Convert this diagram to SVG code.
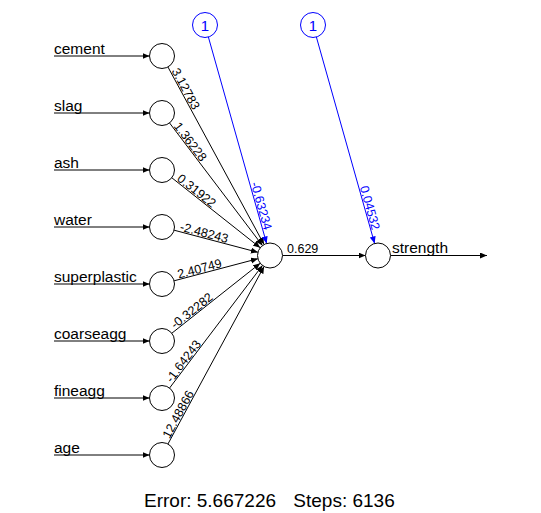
<svg xmlns="http://www.w3.org/2000/svg" width="541" height="513" viewBox="0 0 541 513">
<style>
text{font-family:"Liberation Sans",Arial,sans-serif;fill:#000}
.lbl{font-size:15.5px}
.w{font-size:12.5px}
.wb{font-size:12.5px;fill:#0000ff}
.node{fill:#fff;stroke:#000;stroke-width:1}
.bias{fill:#fff;stroke:#0000ff;stroke-width:1}
.e{stroke:#000;stroke-width:1;fill:none;marker-end:url(#ah)}
.eb{stroke:#0000ff;stroke-width:1;fill:none;marker-end:url(#ahb)}
.one{font-size:15px;fill:#0000ff;text-anchor:middle}
.foot{font-size:19px}
</style>
<defs>
<marker id="ah" markerUnits="userSpaceOnUse" markerWidth="8" markerHeight="7" refX="7" refY="3" orient="auto"><path d="M0,0 L7,3 L0,6 Z" fill="#000"/></marker>
<marker id="ahb" markerUnits="userSpaceOnUse" markerWidth="8" markerHeight="7" refX="7" refY="3" orient="auto"><path d="M0,0 L7,3 L0,6 Z" fill="#0000ff"/></marker>
</defs>
<rect width="541" height="513" fill="#fff"/>
<g id="connectors">
<line class="e" x1="54" y1="56" x2="149.5" y2="56"/>
<line class="e" x1="54" y1="113" x2="149.5" y2="113"/>
<line class="e" x1="54" y1="170" x2="149.5" y2="170"/>
<line class="e" x1="54" y1="227" x2="149.5" y2="227"/>
<line class="e" x1="54" y1="284" x2="149.5" y2="284"/>
<line class="e" x1="54" y1="341" x2="149.5" y2="341"/>
<line class="e" x1="54" y1="398" x2="149.5" y2="398"/>
<line class="e" x1="54" y1="455" x2="149.5" y2="455"/>
<line class="e" x1="167.95" y1="66.99" x2="264.05" y2="244.51"/>
<line class="e" x1="169.55" y1="122.96" x2="262.45" y2="245.54"/>
<line class="e" x1="171.80" y1="177.76" x2="260.20" y2="247.74"/>
<line class="e" x1="174.09" y1="230.19" x2="257.91" y2="252.31"/>
<line class="e" x1="174.09" y1="280.81" x2="257.91" y2="258.69"/>
<line class="e" x1="171.80" y1="333.24" x2="260.20" y2="263.26"/>
<line class="e" x1="169.55" y1="388.04" x2="262.45" y2="265.46"/>
<line class="e" x1="167.95" y1="444.01" x2="264.05" y2="266.49"/>
<line class="eb" x1="208.39" y1="37.03" x2="266.61" y2="243.47"/>
<line class="eb" x1="316.39" y1="37.03" x2="374.61" y2="243.47"/>
<line class="e" x1="282.5" y1="255.5" x2="365.5" y2="255.5"/>
<line class="e" x1="390.5" y1="255.5" x2="487" y2="255.5"/>
<text class="w" transform="translate(162,56) rotate(61.57)" x="17.5" y="-1">3.12783</text>
<text class="w" transform="translate(162,113) rotate(52.84)" x="17.5" y="-1">1.36228</text>
<text class="w" transform="translate(162,170) rotate(38.37)" x="17.5" y="-1">0.31922</text>
<text class="w" transform="translate(162,227) rotate(14.78)" x="17.5" y="-1">-2.48243</text>
<text class="w" transform="translate(162,284) rotate(-14.78)" x="17.5" y="-1">2.40749</text>
<text class="w" transform="translate(162,341) rotate(-38.37)" x="17.5" y="-1">-0.32282</text>
<text class="w" transform="translate(162,398) rotate(-52.84)" x="17.5" y="-1">-1.64243</text>
<text class="w" transform="translate(162,455) rotate(-61.57)" x="17.5" y="-1">12.48866</text>
<text class="wb" transform="translate(205,25) rotate(74.29)" x="214" y="-1" text-anchor="end">-0.63234</text>
<text class="wb" transform="translate(313,25) rotate(74.29)" x="214" y="-1" text-anchor="end">0.04532</text>
<text class="w" x="287" y="253">0.629</text>
</g>
<g id="in-cement"><circle class="node" cx="162" cy="56" r="12.5"/><text class="lbl" x="54" y="54.3">cement</text></g>
<g id="in-slag"><circle class="node" cx="162" cy="113" r="12.5"/><text class="lbl" x="54" y="111.3">slag</text></g>
<g id="in-ash"><circle class="node" cx="162" cy="170" r="12.5"/><text class="lbl" x="54" y="168.3">ash</text></g>
<g id="in-water"><circle class="node" cx="162" cy="227" r="12.5"/><text class="lbl" x="54" y="225.3">water</text></g>
<g id="in-superplastic"><circle class="node" cx="162" cy="284" r="12.5"/><text class="lbl" x="54" y="282.3">superplastic</text></g>
<g id="in-coarseagg"><circle class="node" cx="162" cy="341" r="12.5"/><text class="lbl" x="54" y="339.3">coarseagg</text></g>
<g id="in-fineagg"><circle class="node" cx="162" cy="398" r="12.5"/><text class="lbl" x="54" y="396.3">fineagg</text></g>
<g id="in-age"><circle class="node" cx="162" cy="455" r="12.5"/><text class="lbl" x="54" y="453.3">age</text></g>
<g id="bias-1"><circle class="bias" cx="205" cy="25" r="12.5"/><text class="one" x="205" y="30.5">1</text></g>
<g id="bias-2"><circle class="bias" cx="313" cy="25" r="12.5"/><text class="one" x="313" y="30.5">1</text></g>
<g id="hidden"><circle class="node" cx="270" cy="255.5" r="12.5"/></g>
<g id="out-strength"><circle class="node" cx="378" cy="255.5" r="12.5"/><text class="lbl" x="392" y="253">strength</text></g>
<g id="footer"><text class="foot" x="144" y="507">Error: 5.667226</text><text class="foot" x="293.3" y="507">Steps: 6136</text></g>
</svg>
